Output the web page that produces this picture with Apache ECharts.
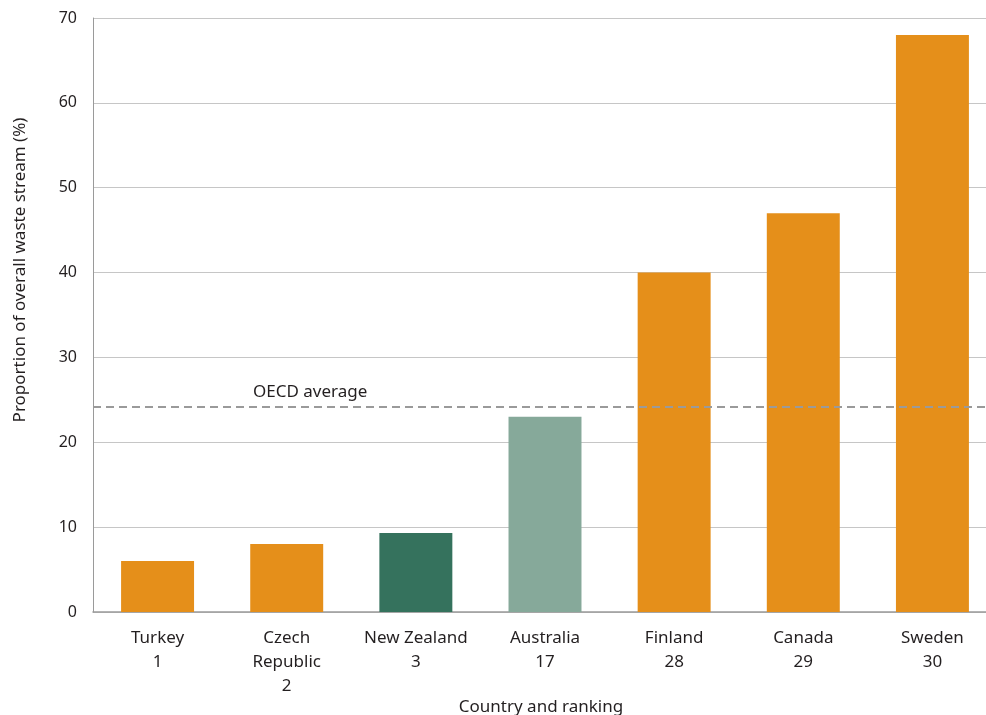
<!DOCTYPE html>
<html>
<head>
<meta charset="utf-8">
<script src="https://cdn.jsdelivr.net/npm/echarts@6/dist/echarts.min.js"></script>
<style>
  html, body { margin: 0; padding: 0; background: #fff; }
  #chart { width: 986px; height: 715px; }
</style>
</head>
<body>
<div id="chart"></div>
<script>
// Recycling share of the overall waste stream, by country and OECD ranking
const countries = ['Turkey', 'Czech\nRepublic', 'New Zealand', 'Australia', 'Finland', 'Canada', 'Sweden'];
const rankings = ['1', '2', '3', '17', '28', '29', '30'];
const shares = [6, 8, 9.3, 23, 40, 47, 68];
const barColors = ['#E58F1A', '#E58F1A', '#35725D', '#86A99A', '#E58F1A', '#E58F1A', '#E58F1A'];
const oecdAverage = 24.2;
const yTicks = [0, 10, 20, 30, 40, 50, 60, 70];

const FONT = '"Noto Sans", "Open Sans", sans-serif';
const TEXT = '#231f20';

const categories = countries.map((c, i) => c + '\n' + rankings[i]);

const chart = echarts.init(document.getElementById('chart'), null, { renderer: 'canvas' });
chart.setOption({
  animation: false,
  backgroundColor: '#ffffff',
  textStyle: { fontFamily: FONT, color: TEXT },
  // the plot runs slightly past the right edge of the canvas
  grid: { left: 93, width: 904, top: 18, bottom: 103, containLabel: false, outerBoundsMode: 'none' },
  graphic: [{
    type: 'text',
    x: 20,
    y: 270,
    rotation: Math.PI / 2,
    style: {
      text: 'Proportion of overall waste stream (%)',
      fontFamily: FONT,
      fontSize: 17,
      fill: TEXT,
      align: 'center',
      verticalAlign: 'middle'
    }
  }, {
    type: 'text',
    x: 541,
    y: 707,
    style: {
      text: 'Country and ranking',
      fontFamily: FONT,
      fontSize: 17,
      fill: TEXT,
      align: 'center',
      verticalAlign: 'middle'
    }
  }],
  xAxis: {
    type: 'category',
    data: categories,
    axisLine: { lineStyle: { color: '#9a9a9a', width: 1.5 } },
    axisTick: { show: false },
    axisLabel: {
      fontFamily: FONT, fontSize: 17, color: TEXT,
      lineHeight: 24, margin: 14, interval: 0
    }
  },
  yAxis: {
    type: 'value',
    min: yTicks[0],
    max: yTicks[yTicks.length - 1],
    interval: 10,
    axisLine: { show: true, lineStyle: { color: '#9a9a9a', width: 1 } },
    axisTick: { show: false },
    axisLabel: { fontFamily: FONT, fontSize: 16, color: TEXT, margin: 16 },
    splitLine: { lineStyle: { color: '#c6c6c6', width: 1 } }
  },
  series: [{
    type: 'bar',
    barWidth: '56.5%',
    data: shares.map((v, i) => ({ value: v, itemStyle: { color: barColors[i] } })),
    markLine: {
      silent: true,
      symbol: 'none',
      lineStyle: { type: [8, 5], color: '#9a9a9a', width: 2 },
      label: {
        show: true,
        position: 'insideStartTop',
        formatter: 'OECD average',
        fontFamily: FONT,
        fontSize: 17,
        color: TEXT,
        distance: [160, 6]
      },
      data: [{ yAxis: oecdAverage }]
    }
  }]
});
</script>
</body>
</html>
